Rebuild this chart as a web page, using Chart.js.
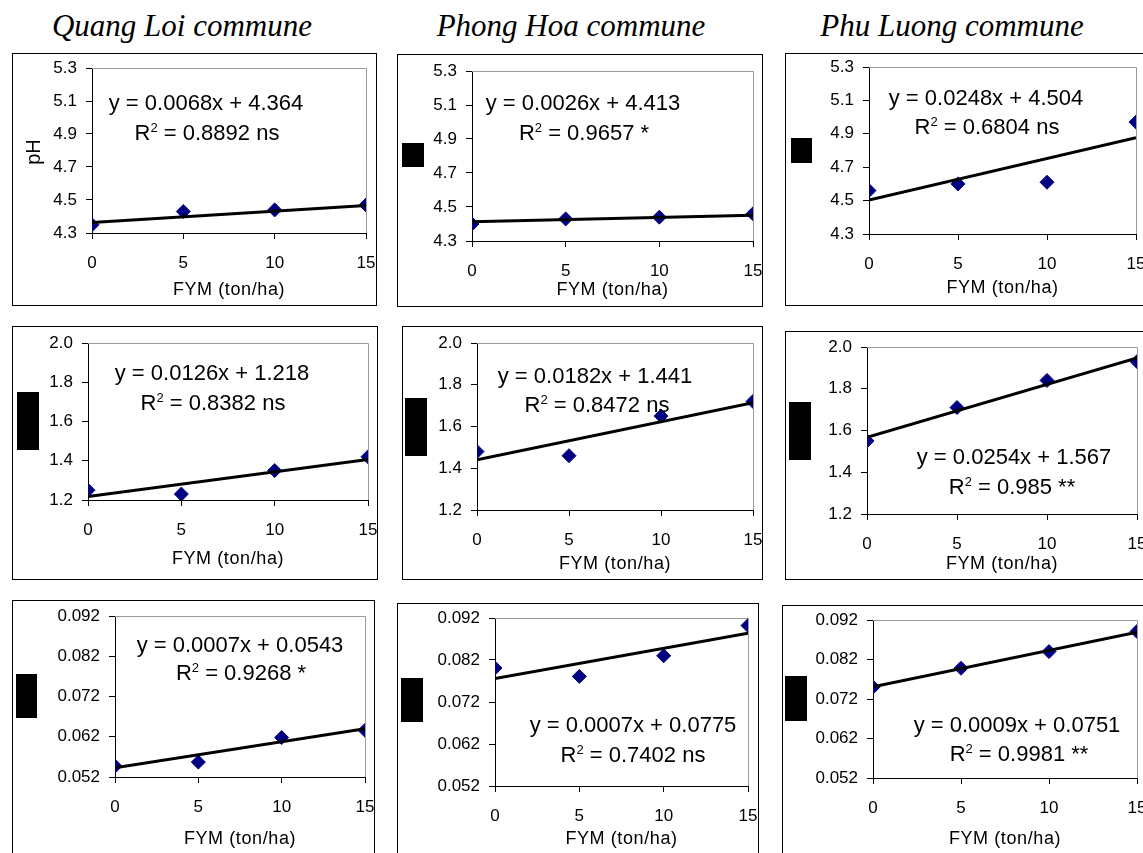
<!DOCTYPE html>
<html><head><meta charset="utf-8">
<script src="https://cdn.jsdelivr.net/npm/chart.js@4.4.0/dist/chart.umd.min.js"></script>
<style>
html,body{margin:0;padding:0;background:#fff;width:1143px;height:853px;overflow:hidden;position:relative;font-family:"Liberation Sans",Arial,sans-serif;}
.box{position:absolute;border:1.5px solid #000;box-sizing:border-box;pointer-events:none;}
canvas{position:absolute;}
.title{position:absolute;font-family:"Liberation Serif","Times New Roman",serif;font-style:italic;font-size:31px;transform:translate(-50%,-50%);white-space:nowrap;color:#000;}
.eq{position:absolute;font-size:22px;transform:translate(-50%,-50%);white-space:nowrap;line-height:1;color:#000;}
.eq sup{font-size:13px;vertical-align:0.6em;line-height:0;}
.xt{position:absolute;font-size:18px;letter-spacing:0.6px;transform:translate(-50%,-50%);white-space:nowrap;line-height:1;color:#000;}
.redact{position:absolute;background:#000;}
.ylab{position:absolute;font-size:20px;transform:translate(-50%,-50%) rotate(-90deg);white-space:nowrap;}
</style></head><body>
<script>
// ---------------- DATA ----------------
const communes = ["Quang Loi commune", "Phong Hoa commune", "Phu Luong commune"];
const fymLevels = [0, 5, 10, 15];            // FYM (ton/ha)
const xTickValues = [0, 5, 10, 15];
const xTitle = "FYM (ton/ha)";

// Row 1: pH
const pHQuangLoi = [4.35, 4.43, 4.44, 4.47];
const pHPhongHoa = [4.40, 4.43, 4.44, 4.46];
const pHPhuLuong = [4.56, 4.60, 4.61, 4.97];
const pHTickValues = [4.3, 4.5, 4.7, 4.9, 5.1, 5.3];
const pHTickLabels = ["4.3", "4.5", "4.7", "4.9", "5.1", "5.3"];

// Row 2
const r2QuangLoi = [1.25, 1.23, 1.35, 1.42];
const r2PhongHoa = [1.48, 1.46, 1.65, 1.72];
const r2PhuLuong = [1.55, 1.71, 1.84, 1.93];
const r2TickValues = [1.2, 1.4, 1.6, 1.8, 2.0];
const r2TickLabels = ["1.2", "1.4", "1.6", "1.8", "2.0"];

// Row 3
const r3QuangLoi = [0.0547, 0.0557, 0.0618, 0.0636];
const r3PhongHoa = [0.0801, 0.0781, 0.0830, 0.0902];
const r3PhuLuong = [0.0750, 0.0798, 0.0840, 0.0891];
const r3TickValues = [0.052, 0.062, 0.072, 0.082, 0.092];
const r3TickLabels = ["0.052", "0.062", "0.072", "0.082", "0.092"];

// Linear trend lines: value at FYM = 0 and FYM = 15
const trendQuangLoiPH = [4.364, 4.466];
const trendPhongHoaPH = [4.413, 4.452];
const trendPhuLuongPH = [4.504, 4.876];
const trendQuangLoiR2 = [1.218, 1.407];
const trendPhongHoaR2 = [1.441, 1.714];
const trendPhuLuongR2 = [1.567, 1.948];
const trendQuangLoiR3 = [0.0543, 0.0640];
const trendPhongHoaR3 = [0.0776, 0.0884];
const trendPhuLuongR3 = [0.0751, 0.0889];

// Regression equation texts
const eqLines = [
  ["y = 0.0068x + 4.364", "0.8892 ns"],
  ["y = 0.0026x + 4.413", "0.9657 *"],
  ["y = 0.0248x + 4.504", "0.6804 ns"],
  ["y = 0.0126x + 1.218", "0.8382 ns"],
  ["y = 0.0182x + 1.441", "0.8472 ns"],
  ["y = 0.0254x + 1.567", "0.985 **"],
  ["y = 0.0007x + 0.0543", "0.9268 *"],
  ["y = 0.0007x + 0.0775", "0.7402 ns"],
  ["y = 0.0009x + 0.0751", "0.9981 **"]
];

// ---------------- LAYOUT (page pixels) ----------------
const panels = [
  {vals:pHQuangLoi, trend:trendQuangLoiPH, tv:pHTickValues, tl:pHTickLabels, box:[12,53,377,306], plot:[92,68,366,233], xt:289, eq:[[206,103],[207,133]], red:null},
  {vals:pHPhongHoa, trend:trendPhongHoaPH, tv:pHTickValues, tl:pHTickLabels, box:[397,54,763,307], plot:[472,71,753,241], xt:289, eq:[[583,103],[584,133]], red:[402,143,424,167]},
  {vals:pHPhuLuong, trend:trendPhuLuongPH, tv:pHTickValues, tl:pHTickLabels, box:[785,53,1150,306], plot:[869,67,1136,234], xt:287, eq:[[986,98],[987,127]], red:[791,138,812,163]},
  {vals:r2QuangLoi, trend:trendQuangLoiR2, tv:r2TickValues, tl:r2TickLabels, box:[12,326,378,580], plot:[88,343,368,500], xt:558, eq:[[212,373],[213,403]], red:[17,392,39,450]},
  {vals:r2PhongHoa, trend:trendPhongHoaR2, tv:r2TickValues, tl:r2TickLabels, box:[402,326,763,580], plot:[477,343,753,510], xt:563, eq:[[595,376],[597,405]], red:[405,398,427,456]},
  {vals:r2PhuLuong, trend:trendPhuLuongR2, tv:r2TickValues, tl:r2TickLabels, box:[785,331,1150,580], plot:[867,347,1137,514], xt:563, eq:[[1014,457],[1012,487]], red:[789,402,811,460]},
  {vals:r3QuangLoi, trend:trendQuangLoiR3, tv:r3TickValues, tl:r3TickLabels, box:[12,600,375,860], plot:[115,616,365,777], xt:838, eq:[[240,645],[241,673]], red:[16,674,37,718]},
  {vals:r3PhongHoa, trend:trendPhongHoaR3, tv:r3TickValues, tl:r3TickLabels, box:[397,603,759,860], plot:[495,618,748,786], xt:838, eq:[[633,725],[633,755]], red:[401,678,423,722]},
  {vals:r3PhuLuong, trend:trendPhuLuongR3, tv:r3TickValues, tl:r3TickLabels, box:[782,605,1150,860], plot:[873,620,1137,778], xt:838, eq:[[1017,725],[1019,754]], red:[785,676,807,721]}
];
const titlePos = [[182,26],[571,26],[952,26]];

const FONT = "'Liberation Sans', Arial, sans-serif";
const plotBorder = {
  id: 'plotBorder',
  beforeDatasetsDraw(chart) {
    const {ctx, chartArea:a} = chart;
    ctx.save();
    ctx.strokeStyle = '#9a9a9a';
    ctx.lineWidth = 1;
    ctx.beginPath();
    ctx.moveTo(a.left, a.top + 0.5);
    ctx.lineTo(a.right + 0.5, a.top + 0.5);
    ctx.lineTo(a.right + 0.5, a.bottom);
    ctx.stroke();
    ctx.restore();
  }
};

function zeroPad(s) { s.paddingLeft = 0; s.paddingRight = 0; s.paddingTop = 0; s.paddingBottom = 0; }

function el(tag, cls, css, html) {
  const d = document.createElement(tag);
  if (cls) d.className = cls;
  Object.assign(d.style, css);
  if (html !== undefined) d.innerHTML = html;
  document.body.appendChild(d);
  return d;
}

communes.forEach((c, i) => el('div', 'title', {left: titlePos[i][0] + 'px', top: titlePos[i][1] + 'px'}, c));

panels.forEach((p, idx) => {
  const [bl, bt, br, bb] = p.box;
  const [pl, pt, pr, pb] = p.plot;
  const W = br - bl, H = bb - bt;
  const cv = document.createElement('canvas');
  cv.width = W; cv.height = H;
  cv.style.left = bl + 'px'; cv.style.top = bt + 'px';
  cv.style.width = W + 'px'; cv.style.height = H + 'px';
  document.body.appendChild(cv);
  new Chart(cv.getContext('2d'), {
    type: 'scatter',
    data: {
      datasets: [
        {
          type: 'line',
          data: [{x: fymLevels[0], y: p.trend[0]}, {x: fymLevels[fymLevels.length - 1], y: p.trend[1]}],
          borderColor: '#000', borderWidth: 3, pointRadius: 0, fill: false, tension: 0
        },
        {
          data: fymLevels.map((x, k) => ({x, y: p.vals[k]})),
          pointStyle: 'rectRot', pointRadius: 7, pointHoverRadius: 7,
          backgroundColor: '#000080', borderColor: '#000080', borderWidth: 1, showLine: false
        }
      ]
    },
    options: {
      responsive: false, animation: false, devicePixelRatio: 1,
      layout: {padding: {left: 0, top: pt - bt, right: br - pr, bottom: 0}},
      plugins: {legend: {display: false}, tooltip: {enabled: false}},
      scales: {
        x: {
          type: 'linear', min: 0, max: 15,
          afterBuildTicks: s => { s.ticks = xTickValues.map(v => ({value: v})); },
          afterFit: s => { s.height = bb - pb; zeroPad(s); },
          ticks: {color: '#000', font: {family: FONT, size: 17}, padding: 14, maxRotation: 0},
          grid: {display: true, drawOnChartArea: false, drawTicks: true, tickLength: 6, color: '#000', lineWidth: 1},
          border: {display: true, color: '#000', width: 1},
          title: {display: false}
        },
        y: {
          type: 'linear', min: p.tv[0], max: p.tv[p.tv.length - 1],
          afterBuildTicks: s => { s.ticks = p.tv.map(v => ({value: v})); },
          afterFit: s => { s.width = pl - bl; zeroPad(s); },
          ticks: {color: '#000', font: {family: FONT, size: 17}, padding: 9, callback: (v, i) => p.tl[i]},
          grid: {display: true, drawOnChartArea: false, drawTicks: true, tickLength: 6, color: '#000', lineWidth: 1},
          border: {display: true, color: '#000', width: 1}
        }
      }
    },
    plugins: [plotBorder]
  });
  el('div', 'box', {left: bl + 'px', top: bt + 'px', width: W + 'px', height: H + 'px'});
  el('div', 'xt', {left: ((pl + pr) / 2) + 'px', top: p.xt + 'px'}, xTitle);
  el('div', 'eq', {left: p.eq[0][0] + 'px', top: p.eq[0][1] + 'px'}, eqLines[idx][0]);
  el('div', 'eq', {left: p.eq[1][0] + 'px', top: p.eq[1][1] + 'px'}, 'R<sup>2</sup> = ' + eqLines[idx][1]);
  if (p.red) {
    const [a, b, c, d] = p.red;
    el('div', 'redact', {left: a + 'px', top: b + 'px', width: (c - a) + 'px', height: (d - b) + 'px'});
  }
});
el('div', 'ylab', {left: '33px', top: '152px'}, 'pH');
</script>
</body></html>
